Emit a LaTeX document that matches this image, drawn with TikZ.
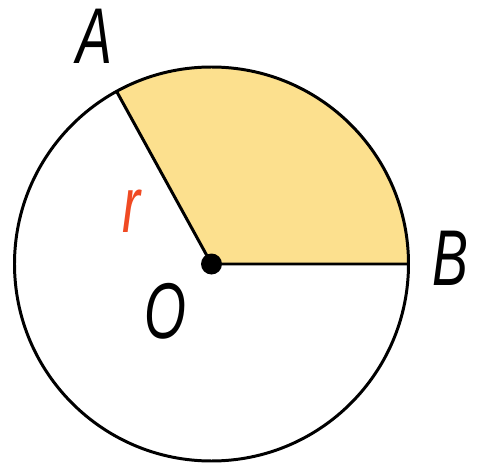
\documentclass[tikz,border=0pt]{standalone}
\usepackage{fontspec}
\setmainfont{Liberation Sans}
\usetikzlibrary{calc}
\definecolor{sectoryellow}{HTML}{FCE08E}
\definecolor{radiusred}{HTML}{F04A23}
\tikzset{
  pointlabel/.style={font=\fontsize{45}{50}\selectfont\itshape, inner sep=0pt, xscale=0.68}
}

\begin{document}
\begin{tikzpicture}[x=0.02cm,y=0.02cm]
    \useasboundingbox (0,0) rectangle (477,464);
    % Mittelpunkt und Kreis
    \coordinate (O) at (211.5,200);
    \coordinate (A) at ($(O)+(118.8:197)$);
    \coordinate (B) at ($(O)+(0:197)$);
    % Sektor zwischen OA und OB
    \fill[sectoryellow] (O) -- (B) arc[start angle=0, end angle=118.8, radius=197] -- cycle;
    \draw[line width=1.7pt] (O) circle[radius=197];
    \draw[line width=1.7pt] (A) -- (O) -- (B);
    \fill (O) circle[radius=10.5];
    % Beschriftungen
    \node[pointlabel] (labA) at (94,428) {A};
    \node[pointlabel] (labB) at (450,206) {B};
    \node[pointlabel] (labO) at (165,153) {O};
    \node[pointlabel, radiusred] (labr) at (131,253) {r};
\end{tikzpicture}
\end{document}
